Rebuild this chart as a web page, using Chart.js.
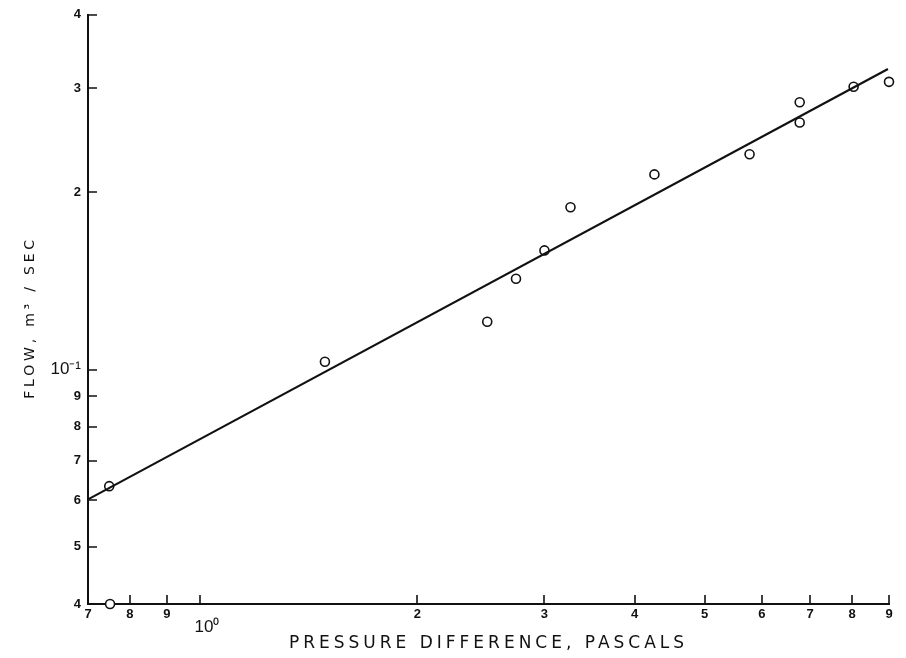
<!DOCTYPE html>
<html>
<head>
<meta charset="utf-8">
<script src="https://cdn.jsdelivr.net/npm/chart.js@4.4.1/dist/chart.umd.min.js"></script>
<style>
  html, body { margin: 0; padding: 0; background: #fff; }
  #wrap { width: 906px; height: 658px; }
</style>
</head>
<body>
<div id="wrap"><canvas id="flowChart" width="906" height="658"></canvas></div>
<script>
// measured points (pressure difference in Pa, flow in m3/s)
const pressure = [0.749, 0.751, 1.49, 2.50, 2.74, 3.00, 3.26, 4.26, 5.77, 6.77, 6.77, 8.04, 9.0];
const flow = [0.0634, 0.040, 0.1031, 0.1205, 0.1426, 0.1593, 0.1885, 0.2144, 0.2320, 0.2842, 0.2626, 0.3019, 0.3078];

// fitted line end points
const fitX = [0.7, 8.97];
const fitY = [0.0602, 0.3237];

const xTicks = [0.7, 0.8, 0.9, 1, 2, 3, 4, 5, 6, 7, 8, 9];
const xTickLabels = ['7', '8', '9', ['', '   10⁰'], '2', '3', '4', '5', '6', '7', '8', '9'];
const yTicks = [0.04, 0.05, 0.06, 0.07, 0.08, 0.09, 0.1, 0.2, 0.3, 0.4];
const yTickLabels = ['4', '5', '6', '7', '8', '9', '10⁻¹', '2', '3', '4'];

const xTitle = 'PRESSURE DIFFERENCE, PASCALS';
const yTitle = 'FLOW, m³ / SEC';

const ink = '#111';
const digitFont = { family: 'Liberation Sans', size: 13, weight: 'bold' };
const decadeFont = { family: 'Liberation Sans', size: 17, weight: 'normal', lineHeight: 0.8 };

// inward tick marks + spaced axis titles
const paperAxes = {
  id: 'paperAxes',
  afterDraw(chart) {
    const ctx = chart.ctx;
    const area = chart.chartArea;
    const xs = chart.scales.x;
    const ys = chart.scales.y;
    ctx.save();
    ctx.strokeStyle = ink;
    ctx.lineWidth = 1.6;
    ctx.beginPath();
    xTicks.forEach((v) => {
      const px = Math.round(xs.getPixelForValue(v));
      ctx.moveTo(px, area.bottom);
      ctx.lineTo(px, area.bottom - 9);
    });
    yTicks.forEach((v) => {
      const py = Math.round(ys.getPixelForValue(v));
      ctx.moveTo(area.left, py);
      ctx.lineTo(area.left + 9, py);
    });
    ctx.stroke();

    ctx.fillStyle = ink;
    ctx.font = '17px "DejaVu Sans"';
    ctx.letterSpacing = '4px';
    ctx.textAlign = 'center';
    ctx.textBaseline = 'middle';
    ctx.fillText(xTitle, (area.left + area.right) / 2, area.bottom + 40);

    ctx.translate(area.left - 58, (area.top + area.bottom) / 2 + 8);
    ctx.rotate(-Math.PI / 2);
    ctx.font = '14px "DejaVu Sans"';
    ctx.letterSpacing = '3.8px';
    ctx.fillText(yTitle, 0, 0);
    ctx.restore();
  },
};

new Chart(document.getElementById('flowChart'), {
  type: 'scatter',
  data: {
    datasets: [
      {
        label: 'fit',
        type: 'line',
        data: fitX.map((x, i) => ({ x: x, y: fitY[i] })),
        borderColor: ink,
        borderWidth: 2.2,
        pointRadius: 0,
        fill: false,
      },
      {
        label: 'measured',
        data: pressure.map((x, i) => ({ x: x, y: flow[i] })),
        pointStyle: 'circle',
        pointRadius: 4.5,
        pointBorderWidth: 1.6,
        pointBorderColor: ink,
        pointBackgroundColor: '#fff',
        clip: false,
      },
    ],
  },
  options: {
    responsive: false,
    animation: false,
    layout: { padding: { left: 0, right: 17, top: 13, bottom: 0 } },
    plugins: {
      legend: { display: false },
      tooltip: { enabled: false },
    },
    scales: {
      x: {
        type: 'logarithmic',
        min: 0.7,
        max: 9,
        afterBuildTicks: (scale) => { scale.ticks = xTicks.map((v) => ({ value: v })); },
        afterFit: (scale) => { scale.height = 54; },
        grid: { display: false, drawTicks: false },
        border: { display: true, color: ink, width: 2 },
        ticks: {
          autoSkip: false,
          maxRotation: 0,
          padding: 3,
          color: ink,
          font: (c) => (c.index === 3 ? decadeFont : digitFont),
          callback: (v, i) => xTickLabels[i],
        },
      },
      y: {
        type: 'logarithmic',
        min: 0.04,
        max: 0.4,
        afterBuildTicks: (scale) => { scale.ticks = yTicks.map((v) => ({ value: v })); },
        afterFit: (scale) => { scale.width = 88; },
        grid: { display: false, drawTicks: false },
        border: { display: true, color: ink, width: 2 },
        ticks: {
          autoSkip: false,
          padding: 7,
          color: ink,
          font: (c) => (c.index === 6 ? { family: 'Liberation Sans', size: 17, weight: 'normal' } : digitFont),
          callback: (v, i) => yTickLabels[i],
        },
      },
    },
  },
  plugins: [paperAxes],
});
</script>
</body>
</html>
